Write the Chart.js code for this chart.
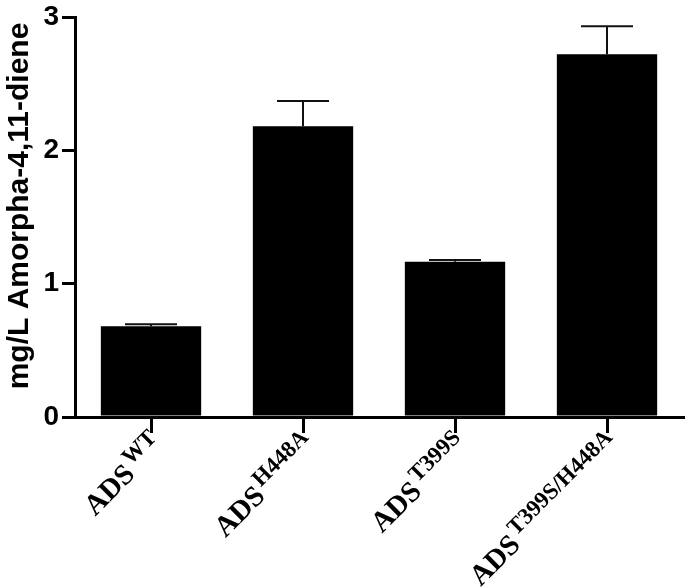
<!DOCTYPE html>
<html>
<head>
<meta charset="utf-8">
<script src="https://cdn.jsdelivr.net/npm/chart.js@4.4.0/dist/chart.umd.min.js"></script>
<style>
  html, body { margin: 0; padding: 0; background: #fff; }
</style>
</head>
<body>
<canvas id="ads-graph" width="685" height="587"></canvas>
<script>
// bar labels: main text + superscript part
var mainLabels = ['ADS', 'ADS', 'ADS', 'ADS'];
var supLabels = ['WT', 'H448A', 'T399S', 'T399S/H448A'];
// mg/L amorpha-4,11-diene, mean and error (upper whisker)
var means = [0.68, 2.18, 1.165, 2.72];
var errors = [0.015, 0.19, 0.013, 0.21];
var yTicks = [0, 1, 2, 3];
var yTitle = 'mg/L Amorpha-4,11-diene';

var errorBars = {
  id: 'errorBars',
  afterDatasetsDraw: function(chart) {
    var ctx = chart.ctx;
    var meta = chart.getDatasetMeta(0);
    var y = chart.scales.y;
    ctx.save();
    ctx.strokeStyle = '#111';
    ctx.lineWidth = 2;
    meta.data.forEach(function(bar, i) {
      var top = y.getPixelForValue(means[i] + errors[i]);
      var base = y.getPixelForValue(means[i]);
      ctx.beginPath();
      ctx.moveTo(bar.x, base);
      ctx.lineTo(bar.x, top);
      ctx.moveTo(bar.x - 26, top);
      ctx.lineTo(bar.x + 26, top);
      ctx.stroke();
    });
    ctx.restore();
  }
};

// rotated category labels with superscripts, plus the y title
var labelsPlugin = {
  id: 'labelsPlugin',
  afterDraw: function(chart) {
    var ctx = chart.ctx;
    var x = chart.scales.x;
    ctx.save();
    ctx.fillStyle = '#000';
    ctx.textBaseline = 'alphabetic';
    ctx.textAlign = 'right';
    mainLabels.forEach(function(lbl, i) {
      var px = x.getPixelForTick(i);
      ctx.save();
      ctx.translate(px - 4, x.top + 11);
      ctx.rotate(-Math.PI / 4);
      ctx.font = 'bold 23px "Liberation Serif"';
      var supW = ctx.measureText(supLabels[i]).width;
      ctx.fillText(supLabels[i], 0, 15);
      ctx.font = 'bold 29px "Liberation Serif"';
      ctx.fillText(lbl, -supW - 3, 15 + 11);
      ctx.restore();
    });

    ctx.translate(20, 206);
    ctx.rotate(-Math.PI / 2);
    ctx.textAlign = 'center';
    ctx.textBaseline = 'middle';
    ctx.font = 'bold 30px "Liberation Sans"';
    ctx.fillText(yTitle, 0, 0);
    ctx.restore();
  }
};

var ctx = document.getElementById('ads-graph').getContext('2d');
var adsChart = new Chart(ctx, {
  type: 'bar',
  data: {
    labels: supLabels,
    datasets: [{
      data: means,
      backgroundColor: '#000',
      borderWidth: 0,
      categoryPercentage: 1,
      barPercentage: 0.66
    }]
  },
  options: {
    responsive: false,
    animation: false,
    layout: { padding: { top: 15, right: 2, left: 0, bottom: 0 } },
    plugins: {
      legend: { display: false },
      tooltip: { enabled: false }
    },
    scales: {
      x: {
        offset: true,
        grid: { offset: false, drawOnChartArea: false, drawTicks: true, tickLength: 16, lineWidth: 3, color: '#000' },
        border: { display: true, width: 3, color: '#000' },
        ticks: { display: false },
        afterFit: function(scale) { scale.height = 170; }
      },
      y: {
        min: 0,
        max: 3,
        afterBuildTicks: function(scale) {
          scale.ticks = yTicks.map(function(v) { return { value: v }; });
        },
        grid: { drawOnChartArea: false, drawTicks: true, tickLength: 13, lineWidth: 3, color: '#000' },
        border: { display: true, width: 3, color: '#000' },
        ticks: {
          color: '#000',
          padding: 3,
          font: { family: 'Liberation Sans', weight: 'bold', size: 28, lineHeight: 1 }
        },
        afterFit: function(scale) { scale.width = 75; }
      }
    }
  },
  plugins: [errorBars, labelsPlugin]
});
</script>
</body>
</html>
